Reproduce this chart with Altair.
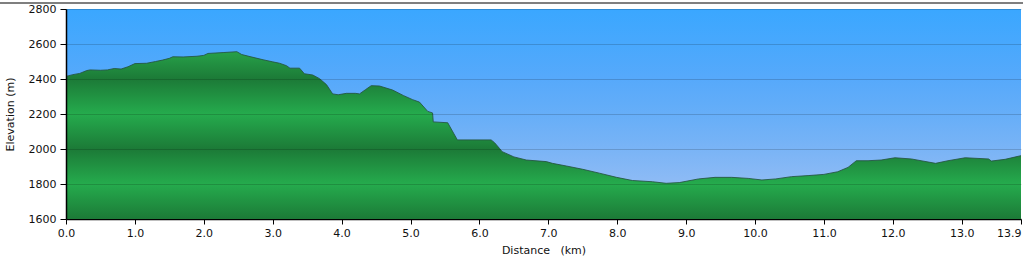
import altair as alt
import pandas as pd

# Distance along the route (km) and elevation (m)
km = [0.00, 0.10, 0.20, 0.30, 0.35, 0.50, 0.60, 0.70, 0.80, 0.90, 1.00, 1.17, 1.30, 1.40,
      1.50, 1.55, 1.70, 1.90, 2.00, 2.06, 2.28, 2.48, 2.55, 2.67, 2.86, 3.00, 3.10, 3.20,
      3.25, 3.39, 3.46, 3.58, 3.68, 3.78, 3.87, 3.95, 4.07, 4.20, 4.26, 4.35, 4.43, 4.55,
      4.74, 4.90, 5.03, 5.13, 5.25, 5.32, 5.33, 5.54, 5.68, 6.17, 6.22, 6.29, 6.33, 6.50,
      6.68, 6.97, 7.06, 7.26, 7.50, 7.74, 7.99, 8.22, 8.51, 8.71, 8.90, 9.18, 9.42, 9.66,
      9.90, 10.10, 10.30, 10.53, 10.77, 11.00, 11.20, 11.35, 11.47, 11.64, 11.83, 12.03,
      12.27, 12.41, 12.62, 12.80, 13.05, 13.39, 13.43, 13.63, 13.86]
elev = [2415, 2425, 2432, 2448, 2452, 2450, 2452, 2460, 2457, 2470, 2488, 2490, 2500, 2508,
        2518, 2527, 2526, 2530, 2535, 2546, 2551, 2556, 2540, 2528, 2510, 2498, 2490, 2476,
        2462, 2462, 2430, 2423, 2402, 2368, 2315, 2310, 2318, 2318, 2315, 2340, 2362, 2360,
        2337, 2305, 2282, 2268, 2215, 2206, 2155, 2150, 2052, 2052, 2036, 2004, 1985, 1955,
        1937, 1928, 1918, 1903, 1884, 1862, 1838, 1820, 1813, 1804, 1808, 1829, 1838, 1838,
        1832, 1823, 1829, 1842, 1848, 1855, 1870, 1895, 1933, 1933, 1937, 1950,
        1943, 1933, 1918, 1933, 1950, 1943, 1931, 1941, 1962]

x_ticks = [0, 1, 2, 3, 4, 5, 6, 7, 8, 9, 10, 11, 12, 13, 13.86]
y_ticks = [1600, 1800, 2000, 2200, 2400, 2600, 2800]
y_min, y_max = 1600, 2800
x_max = 13.86

W, H = 955, 210

df = pd.DataFrame({"km": km, "elev": elev})

# green banded gradient (relative to area bounding box)
top = max(elev)
span = top - y_min
def off(v):
    return max(0.0, min(1.0, (top - v) / span))

dark = "#1c7a37"
bright = "#25ab4d"
green_stops = [
    alt.GradientStop(color="#27a149", offset=0.0),
    alt.GradientStop(color=dark, offset=off(2400)),
    alt.GradientStop(color=bright, offset=off(2200)),
    alt.GradientStop(color=dark, offset=off(2000)),
    alt.GradientStop(color=bright, offset=off(1800)),
    alt.GradientStop(color=dark, offset=1.0),
]

sky = alt.Chart(pd.DataFrame({"a": [0]})).mark_rect(
    color=alt.Gradient(
        gradient="linear", x1=0, x2=0, y1=0, y2=1,
        stops=[
            alt.GradientStop(color="#3aa7ff", offset=0.0),
            alt.GradientStop(color="#56a9fb", offset=0.33),
            alt.GradientStop(color="#66aef8", offset=0.5),
            alt.GradientStop(color="#7ab4f6", offset=0.67),
            alt.GradientStop(color="#8ebbf5", offset=0.83),
            alt.GradientStop(color="#a2c4f3", offset=1.0),
        ],
    )
).encode(x=alt.value(0), x2=alt.value(W), y=alt.value(0), y2=alt.value(H))

xaxis = alt.Axis(
    values=x_ticks, format=".1f", title="Distance\u00a0\u00a0\u00a0(km)", grid=False,
    tickSize=5, labelPadding=3, titlePadding=6, labelFlush=False, labelOverlap=False,
    labelAlign={"condition": {"test": "datum.value > 13.5", "value": "right"}, "value": "center"},
)
yaxis = alt.Axis(
    values=y_ticks, format="d", title="Elevation (m)", grid=True,
    gridColor="#000000", gridOpacity=0.16, tickSize=6, labelPadding=4,
    titlePadding=13, labelFlush=False, labelOverlap=False, zindex=1,
)
xenc = alt.X("km:Q", scale=alt.Scale(domain=[0, x_max], nice=False, zero=False), axis=xaxis)
yenc = alt.Y("elev:Q", scale=alt.Scale(domain=[y_min, y_max], nice=False, zero=False), axis=yaxis)

area = alt.Chart(df).mark_area(
    color=alt.Gradient(gradient="linear", x1=0, x2=0, y1=0, y2=1, stops=green_stops),
    interpolate="linear",
).encode(x=xenc, y=yenc, y2=alt.datum(y_min))

outline = alt.Chart(df).mark_line(color="#24543f", strokeWidth=1, opacity=0.85).encode(
    x=xenc, y=yenc
)

border = alt.Chart(pd.DataFrame({"a": [0]})).mark_rule(color="#555555", strokeWidth=1.5).encode(
    x=alt.value(-66), x2=alt.value(W + 2), y=alt.value(-6)
)

chart = alt.layer(sky, area, outline, border).properties(
    width=W, height=H,
    autosize=alt.AutoSizeParams(type="none"),
    padding={"left": 66, "top": 9, "right": 2, "bottom": 44},
    background="white",
).configure_view(strokeWidth=0).configure_axis(
    labelFont="DejaVu Sans", labelFontSize=11, labelColor="#111111",
    titleFont="DejaVu Sans", titleFontSize=11, titleFontWeight="normal", titleColor="#111111",
    domainColor="#000000", tickColor="#000000", domainWidth=1.5, tickWidth=1,
)

chart.save("out.html", embed_options={"renderer": "svg", "actions": False})
